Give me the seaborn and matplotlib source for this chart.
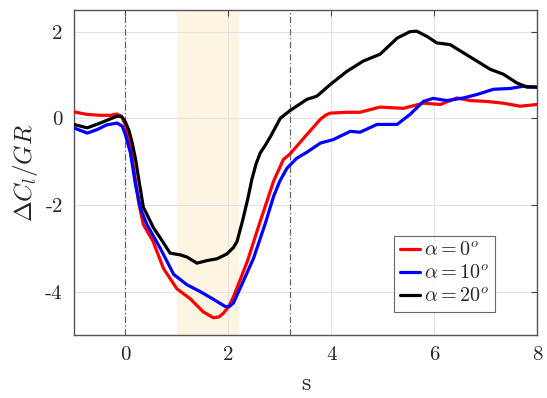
import seaborn as sns
import matplotlib.pyplot as plt
import pandas as pd
import numpy as np

# datos
s_a0 = [-1.0, -0.74, -0.49, -0.29, -0.16, -0.06, 0.0, 0.07, 0.13, 0.2, 0.26, 0.35, 0.54, 0.74, 1.0, 1.26,
        1.51, 1.71, 1.82, 1.9, 2.0, 2.1, 2.37, 2.6, 2.88, 3.07, 3.2, 3.53, 3.79, 3.9, 3.98, 4.3, 4.56, 4.95,
        5.4, 5.79, 6.12, 6.44, 6.7, 7.02, 7.34, 7.67, 8.0]
cl_a0 = [0.15, 0.09, 0.07, 0.07, 0.10, 0.02, -0.15, -0.45, -0.9, -1.45, -1.95, -2.45, -2.84, -3.46, -3.93, -4.16,
         -4.46, -4.6, -4.58, -4.5, -4.36, -4.12, -3.3, -2.45, -1.45, -0.95, -0.82, -0.37, -0.02, 0.08, 0.12, 0.14, 0.14, 0.26,
         0.23, 0.35, 0.32, 0.47, 0.41, 0.39, 0.35, 0.28, 0.32]

s_a10 = [-1.0, -0.74, -0.55, -0.36, -0.16, -0.06, 0.0, 0.1, 0.2, 0.3, 0.42, 0.68, 0.94, 1.2, 1.46,
         1.72, 1.94, 2.02, 2.1, 2.23, 2.49, 2.72, 2.88, 3.0, 3.14, 3.33, 3.53, 3.79, 4.04, 4.37, 4.56,
         4.89, 5.28, 5.53, 5.79, 5.98, 6.25, 6.57, 6.83, 7.15, 7.48, 7.73, 8.0]
cl_a10 = [-0.22, -0.34, -0.26, -0.15, -0.11, -0.18, -0.37, -0.8, -1.55, -2.1, -2.45, -3.0, -3.6, -3.84, -4.0,
          -4.18, -4.34, -4.34, -4.26, -3.92, -3.23, -2.42, -1.8, -1.45, -1.15, -0.92, -0.78, -0.57, -0.49, -0.3, -0.32,
          -0.14, -0.14, 0.09, 0.39, 0.46, 0.41, 0.47, 0.55, 0.67, 0.69, 0.74, 0.72]

s_a20 = [-1.0, -0.74, -0.49, -0.16, -0.08, 0.0, 0.07, 0.13, 0.2, 0.26, 0.35, 0.55, 0.68, 0.87, 1.07, 1.2,
         1.39, 1.59, 1.78, 1.97, 2.1, 2.17, 2.28, 2.38, 2.46, 2.54, 2.62, 2.72, 2.82, 3.01, 3.2, 3.53, 3.72, 3.98,
         4.3, 4.62, 4.95, 5.28, 5.53, 5.66, 5.86, 6.05, 6.31, 6.57, 6.83, 7.09, 7.34, 7.6, 7.8, 8.0]
cl_a20 = [-0.14, -0.22, -0.11, 0.05, 0.05, -0.08, -0.28, -0.55, -0.95, -1.4, -2.05, -2.53, -2.76, -3.11, -3.15, -3.2,
          -3.34, -3.28, -3.24, -3.13, -2.98, -2.84, -2.35, -1.85, -1.4, -1.05, -0.8, -0.62, -0.42, 0.0, 0.18, 0.44, 0.51, 0.78,
          1.08, 1.32, 1.48, 1.85, 2.0, 2.01, 1.89, 1.74, 1.7, 1.51, 1.32, 1.13, 1.02, 0.82, 0.72, 0.72]

etiquetas = [r'$\alpha = 0^o$', r'$\alpha = 10^o$', r'$\alpha = 20^o$']
colores = ['#ff0000', '#0000ff', '#000000']
lineas_v = [0.0, 3.2]
zona = (1.0, 2.2)

df = pd.concat([
    pd.DataFrame({'s': s_a0, 'dcl': cl_a0, 'caso': etiquetas[0]}),
    pd.DataFrame({'s': s_a10, 'dcl': cl_a10, 'caso': etiquetas[1]}),
    pd.DataFrame({'s': s_a20, 'dcl': cl_a20, 'caso': etiquetas[2]}),
])

sns.set_style('white')
plt.rcParams['font.family'] = 'serif'
plt.rcParams['font.serif'] = ['cmr10']
plt.rcParams['mathtext.fontset'] = 'cm'
plt.rcParams['axes.unicode_minus'] = False
plt.rcParams['axes.formatter.use_mathtext'] = False

fig = plt.figure(figsize=(5.47, 3.98), dpi=100)
ax = fig.add_axes([0.135, 0.158, 0.847, 0.817])

ax.axvspan(zona[0], zona[1], color='#fdf5e2', zorder=0, lw=0)
for xv in lineas_v:
    ax.axvline(xv, color='#666666', ls=(0, (5, 2, 1, 2)), lw=0.9, zorder=1)

sns.lineplot(data=df, x='s', y='dcl', hue='caso', palette=colores, lw=2.3,
             sort=False, estimator=None, ax=ax, zorder=3)

ax.set_xlim(-1, 8)
ax.set_ylim(-5, 2.5)
ax.set_xticks([0, 2, 4, 6, 8])
ax.set_yticks([-4, -2, 0, 2])
ax.grid(True, color='#e3e3e3', lw=0.8, zorder=0)
ax.set_axisbelow(True)
ax.tick_params(direction='in', top=True, right=True, labelsize=15, length=4,
               color='#444444', width=0.8, pad=8)
for sp in ax.spines.values():
    sp.set_color('#555555')
    sp.set_linewidth(1.0)

ax.set_xlabel('s', fontsize=17, labelpad=6)
ax.set_ylabel(r'$\Delta C_l/GR$', fontsize=18, labelpad=4)

leg = ax.legend(loc='lower right', bbox_to_anchor=(0.91, 0.07), fontsize=14.5,
                handlelength=1.0, handletextpad=0.2, borderpad=0.3, labelspacing=0.25,
                frameon=True, fancybox=False, edgecolor='#444444', borderaxespad=0)
leg.get_frame().set_linewidth(0.8)

plt.savefig('out.png', dpi=100)
